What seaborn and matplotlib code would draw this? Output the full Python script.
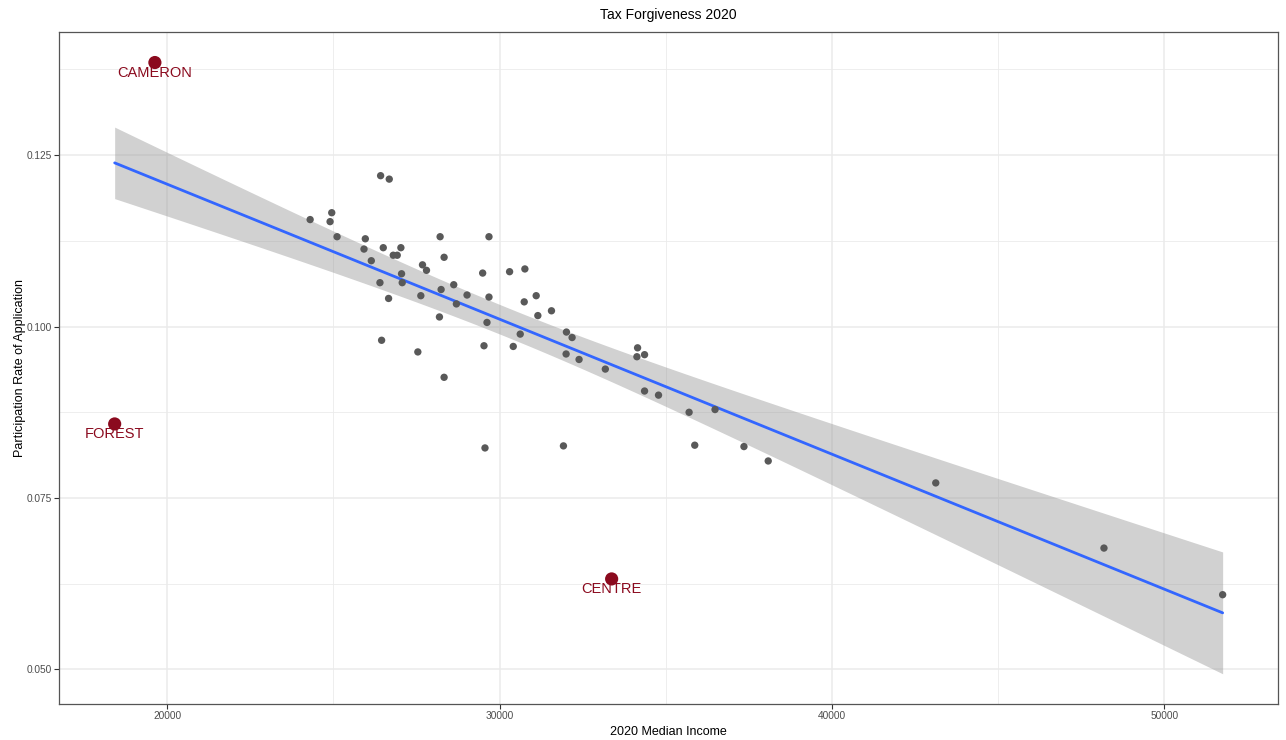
import numpy as np
import pandas as pd
import matplotlib.pyplot as plt
import seaborn as sns

# ---------- Data ----------
income = [26420, 26680, 24300, 24950, 24900, 25110, 25960, 25920, 26500, 27030,
          26800, 26920, 26140, 27050, 27070, 26400, 26660, 28210, 28330, 27680,
          27800, 29680, 29490, 30300, 30760, 28240, 28620, 27630, 29020, 29680,
          28700, 31100, 30740, 31150, 28190, 29620, 30620, 30410, 26450, 27540,
          29530, 28330, 31560, 32010, 32180, 32000, 32390, 33180, 34150, 34130,
          34360, 34360, 34780, 35700, 36480, 29560, 31920, 35870, 37350, 38080,
          43120, 48180, 51750]
rate = [0.1220, 0.1215, 0.1156, 0.1166, 0.1153, 0.1131, 0.1128, 0.1113, 0.1115, 0.1115,
        0.1104, 0.1104, 0.1096, 0.1077, 0.1064, 0.1064, 0.1041, 0.1131, 0.1101, 0.1090,
        0.1082, 0.1131, 0.1078, 0.1080, 0.1084, 0.1054, 0.1061, 0.1045, 0.1046, 0.1043,
        0.1033, 0.1045, 0.1036, 0.1016, 0.1014, 0.1006, 0.0989, 0.0971, 0.0980, 0.0963,
        0.0972, 0.0926, 0.1023, 0.0992, 0.0984, 0.0960, 0.0952, 0.0938, 0.0969, 0.0956,
        0.0959, 0.0906, 0.0900, 0.0875, 0.0879, 0.0823, 0.0826, 0.0827, 0.0825, 0.0804,
        0.0772, 0.0677, 0.0609]

label_names  = ["CAMERON", "FOREST", "CENTRE"]
label_income = [19630, 18420, 33370]
label_rate   = [0.1385, 0.0858, 0.0632]

TITLE  = "Tax Forgiveness 2020"
XLABEL = "2020 Median Income"
YLABEL = "Participation Rate of Application"
xticks = [20000, 30000, 40000, 50000]
yticks = [0.050, 0.075, 0.100, 0.125]

# ---------- Style ----------
RED   = "#8B0A1E"
BLUE  = "#3366FF"
GRID  = "#EBEBEB"
FRAME = "#555555"
T975  = 1.998     # t quantile, df ~ 64

sns.set_style("white")
plt.rcParams["font.family"] = ["Liberation Sans", "DejaVu Sans"]

df = pd.DataFrame({"income": income + label_income,
                   "rate": rate + label_rate})
lab = pd.DataFrame({"name": label_names, "income": label_income, "rate": label_rate})

# ---------- lm confidence band (like geom_smooth(method="lm")) ----------
x = df["income"].to_numpy(float)
y = df["rate"].to_numpy(float)
n = len(x)
slope, icpt = np.polyfit(x, y, 1)
resid = y - (icpt + slope * x)
s_err = np.sqrt(np.sum(resid ** 2) / (n - 2))
xs = np.linspace(x.min(), x.max(), 100)
ys = icpt + slope * xs
se = s_err * np.sqrt(1 / n + (xs - x.mean()) ** 2 / np.sum((x - x.mean()) ** 2))

fig = plt.figure(figsize=(12.86, 7.40), dpi=100)
ax = fig.add_axes([0.0461, 0.0490, 0.9477, 0.9082])

# grid (major + minor)
for v in [25000, 35000, 45000]:
    ax.axvline(v, color=GRID, lw=0.6, zorder=0)
for v in [0.0625, 0.0875, 0.1125, 0.1375]:
    ax.axhline(v, color=GRID, lw=0.6, zorder=0)
for v in xticks:
    ax.axvline(v, color=GRID, lw=1.1, zorder=0)
for v in yticks:
    ax.axhline(v, color=GRID, lw=1.1, zorder=0)

ax.fill_between(xs, ys - T975 * se, ys + T975 * se, color="#999999",
                alpha=0.45, lw=0, zorder=2)
sns.regplot(data=df, x="income", y="rate", scatter=False, ci=None,
            color=BLUE, line_kws=dict(color=BLUE, lw=2.0, zorder=3), ax=ax)

# points
sns.scatterplot(data=df, x="income", y="rate", color="#595959", s=28,
                edgecolor="none", linewidth=0, zorder=4, ax=ax)
sns.scatterplot(data=lab, x="income", y="rate", color=RED, s=90,
                edgecolor="none", linewidth=0, zorder=5, ax=ax)
for _, r in lab.iterrows():
    ax.annotate(r["name"], (r["income"], r["rate"]), xytext=(0, -7.5),
                textcoords="offset points", ha="center", va="center",
                color=RED, fontsize=10.5, zorder=6)

ax.set_xlim(16754, 53416)
ax.set_ylim(0.0450, 0.1430)
ax.set_xticks(xticks)
ax.set_yticks(yticks)
ax.set_xticklabels([str(v) for v in xticks])
ax.set_yticklabels([f"{v:.3f}" for v in yticks])
ax.tick_params(axis="both", which="major", length=3.5, width=0.8, color="#333333",
               labelsize=7.3, labelcolor="#4D4D4D", pad=2, direction="out",
               bottom=True, left=True)

for sp in ax.spines.values():
    sp.set_color(FRAME)
    sp.set_linewidth(0.9)
    sp.set_visible(True)

ax.set_title(TITLE, fontsize=10, color="black", pad=9)
ax.set_xlabel(XLABEL, fontsize=9, color="black", labelpad=3)
ax.set_ylabel(YLABEL, fontsize=9, color="black", labelpad=0.5)

fig.savefig("out.png", dpi=100)
